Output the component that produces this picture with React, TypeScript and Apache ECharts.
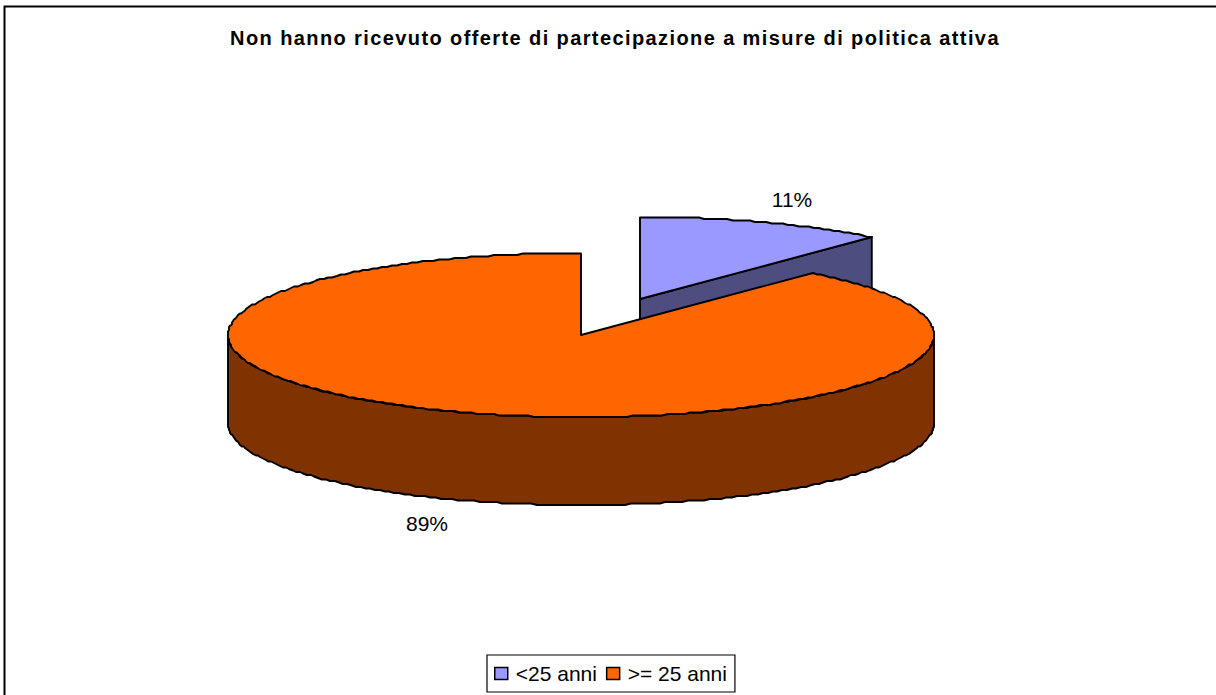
import React, { useEffect, useRef } from "react";
import * as echarts from "echarts";

const chartTitle = "Non hanno ricevuto offerte di partecipazione a misure di politica attiva";
const categories = ["<25 anni", ">= 25 anni"];
const shares = [11.4, 88.6];
const topColors = ["#9999ff", "#ff6600"];
const sideColors = ["#4d4d80", "#803300"];

const FONT = "'Liberation Sans', Arial, sans-serif";
const CX = 581, CY = 335, RX = 353, RY = 82, DEPTH = 88;
const EXPLODE = [59, -36];
const LABEL_POS = [[792, 199], [427, 523]];
const STROKE = { stroke: "#000", lineWidth: 1.9, lineJoin: "round" as const };

const total = shares.reduce((a, b) => a + b, 0);

function rim(cx: number, cy: number, from: number, to: number): number[][] {
  const pts: number[][] = [];
  const n = Math.max(2, Math.ceil((to - from) * 60));
  for (let i = 0; i <= n; i++) {
    const t = from + ((to - from) * i) / n;
    const x = cx + RX * Math.sin(t);
    const y = cy - RY * Math.cos(t);
    // the source rendering has a slightly stepped outline
    pts.push([Math.round(x), Math.round(y / 1.5) * 1.5]);
  }
  return pts;
}

function renderSlice(index: number) {
  return (_params: any, api: any) => {
    const value = api.value(0) as number;
    const before = shares.slice(0, index).reduce((a, b) => a + b, 0);
    const a0 = (before / total) * Math.PI * 2;
    const a1 = a0 + (value / total) * Math.PI * 2;
    const cx = index === 0 ? CX + EXPLODE[0] : CX;
    const cy = index === 0 ? CY + EXPLODE[1] : CY;
    const children: any[] = [];
    const side = { fill: sideColors[index], ...STROKE };
    const top = { fill: topColors[index], ...STROKE };

    // radial cut face seen from the front (only the small slice shows it)
    if (index === 0) {
      const end = [cx + RX * Math.sin(a1), cy - RY * Math.cos(a1)];
      children.push({
        type: "polygon",
        shape: { points: [[cx, cy], end, [end[0], end[1] + DEPTH], [cx, cy + DEPTH]] },
        style: side,
      });
    }
    // front wall of the disc
    const s0 = Math.max(a0, Math.PI / 2);
    const s1 = Math.min(a1, (Math.PI * 3) / 2);
    if (s1 > s0) {
      const upper = rim(cx, cy, s0, s1);
      const lower = upper.map((p) => [p[0], p[1] + DEPTH]).reverse();
      children.push({ type: "polygon", shape: { points: [...upper, ...lower] }, style: side });
    }
    // top face
    children.push({
      type: "polygon",
      shape: { points: [[cx, cy], ...rim(cx, cy, a0, a1)] },
      style: top,
    });
    // percentage label
    children.push({
      type: "text",
      x: LABEL_POS[index][0],
      y: LABEL_POS[index][1],
      style: {
        text: `${Math.round((value / total) * 100)}%`,
        fill: "#000",
        font: `21px ${FONT}`,
        align: "center",
        verticalAlign: "middle",
      },
    });
    return { type: "group", children };
  };
}

export default function App() {
  const ref = useRef<HTMLDivElement>(null);
  useEffect(() => {
    document.body.style.margin = "0";
    const chart = echarts.init(ref.current!, null, { renderer: "svg" });
    chart.setOption({
      animation: false,
      backgroundColor: "#fff",
      title: {
        text: chartTitle,
        left: 610,
        top: 23,
        textAlign: "center",
        textStyle: { fontFamily: FONT, fontWeight: "bold", fontSize: 20, color: "#000" },
      },
      legend: {
        left: 487,
        top: 655,
        padding: [8, 8, 8, 7],
        itemGap: 9,
        itemWidth: 13,
        itemHeight: 12,
        icon: "rect",
        borderColor: "#000",
        borderWidth: 1.2,
        backgroundColor: "#fff",
        textStyle: { fontFamily: FONT, fontSize: 21, color: "#000", padding: [0, 0, 0, 3] },
        data: categories.map((name, i) => ({
          name,
          itemStyle: { color: topColors[i], borderColor: "#000", borderWidth: 1.5 },
        })),
      },
      graphic: [
        {
          type: "polyline",
          silent: true,
          shape: { points: [[4.5, 695], [4.5, 6.5], [1216, 6.5]] },
          style: { fill: "none", stroke: "#000", lineWidth: 2 },
        },
      ],
      series: categories.map((name, i) => ({
        type: "custom",
        name,
        coordinateSystem: "none",
        silent: true,
        z: i + 1,
        itemStyle: { color: topColors[i] },
        data: [[shares[i]]],
        renderItem: renderSlice(i),
      })),
    });
    // the reference title is set with loose tracking
    ref.current!.querySelectorAll("text").forEach((t) => {
      if (t.textContent === chartTitle) (t as SVGTextElement).style.letterSpacing = "1.4px";
    });
    return () => chart.dispose();
  }, []);
  return <div ref={ref} style={{ position: "absolute", left: 0, top: 0, width: 1216, height: 695 }} />;
}
